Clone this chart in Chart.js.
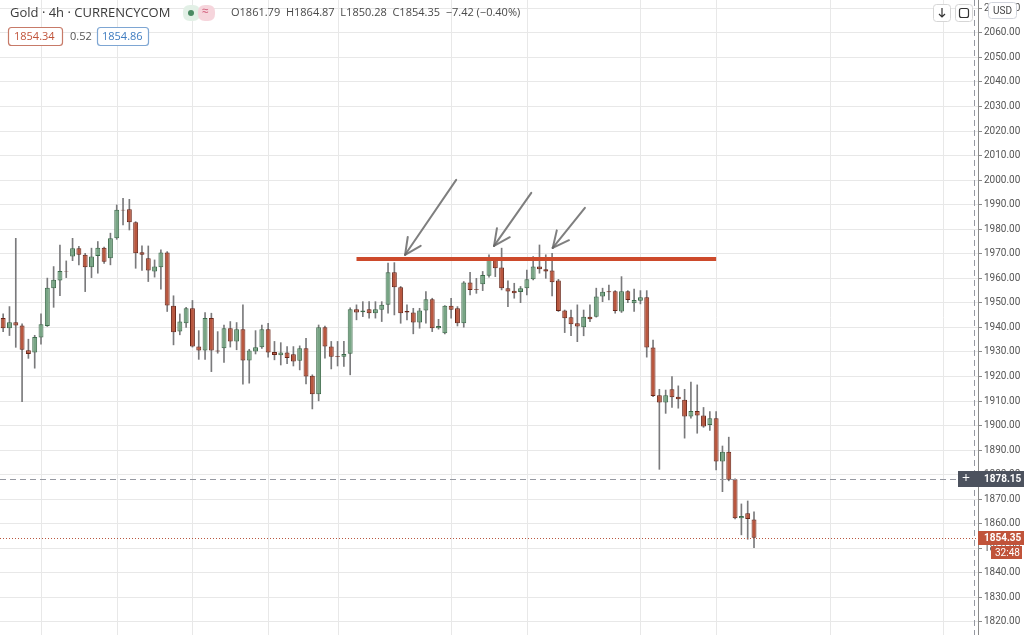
<!DOCTYPE html>
<html>
<head>
<meta charset="utf-8">
<script src="https://cdn.jsdelivr.net/npm/chart.js@4.4.0/dist/chart.umd.min.js"></script>
<style>
  html, body { margin: 0; padding: 0; background: #fff; }
  #wrap { width: 1024px; height: 635px; position: relative; }
</style>
</head>
<body>
<div id="wrap"><canvas id="gold"></canvas></div>
<script>
// 4h candles, Gold / CURRENCYCOM
var opens  = [1943.8,1939.7,1942.1,1940.8,1930.7,1929.8,1935.9,1940.6,1956.0,1959.1,
              1963.0,1968.9,1972.3,1969.6,1964.5,1969.1,1972.5,1968.2,1976.3,1987.9,
              1988.2,1982.9,1970.6,1968.2,1962.8,1964.5,1970.5,1948.8,1938.3,1941.7,
              1947.8,1932.2,1930.6,1943.8,1930.6,1931.5,1939.7,1934.3,1939.3,1926.5,
              1930.2,1931.9,1939.3,1930.0,1928.7,1929.8,1929.1,1926.4,1931.5,1920.3,
              1912.8,1940.1,1932.2,1928.3,1928.1,1929.3,1947.4,1946.2,1947.4,1945.8,
              1947.2,1949.2,1962.5,1956.4,1946.7,1946.1,1942.0,1946.9,1951.5,1939.7,
              1937.6,1948.8,1947.8,1941.7,1958.3,1955.7,1957.6,1961.1,1967.5,1964.4,
              1956.0,1954.9,1954.4,1956.0,1959.6,1964.8,1963.7,1963.2,1959.1,1946.9,
              1944.2,1941.7,1940.1,1944.4,1944.4,1952.6,1954.7,1954.7,1946.5,1954.7,
              1949.9,1950.9,1952.3,1931.8,1912.4,1909.4,1914.8,1911.8,1910.5,1903.7,
              1906.0,1904.1,1900.3,1903.0,1885.4,1889.4,1878.2,1862.3,1864.3,1861.79];
var highs  = [1945.5,1948.5,1976.3,1941.5,1935.2,1936.8,1945.5,1960.1,1964.8,1973.6,
              1967.1,1976.3,1973.0,1970.2,1972.3,1975.0,1972.7,1978.4,1989.9,1992.6,
              1992.2,1983.1,1973.2,1973.2,1967.5,1971.6,1970.9,1952.9,1945.5,1948.2,
              1951.0,1938.7,1946.1,1945.8,1938.3,1941.0,1942.4,1942.0,1949.2,1931.1,
              1938.7,1941.0,1941.7,1934.3,1933.8,1932.2,1932.2,1932.5,1935.6,1920.7,
              1941.0,1940.6,1934.3,1934.3,1934.3,1948.0,1949.2,1950.5,1950.5,1950.5,
              1950.5,1966.2,1966.4,1956.7,1949.2,1947.8,1947.8,1954.6,1951.9,1943.3,
              1948.9,1951.9,1948.5,1958.7,1962.5,1960.0,1962.8,1969.6,1967.8,1972.3,
              1959.0,1958.0,1956.7,1963.4,1968.9,1973.6,1969.6,1970.2,1959.6,1947.1,
              1947.1,1949.2,1947.1,1949.2,1956.0,1956.0,1957.3,1955.0,1960.7,1955.0,
              1955.6,1955.0,1955.0,1934.9,1914.8,1914.5,1920.0,1916.2,1914.8,1917.7,
              1916.6,1907.4,1905.7,1905.7,1891.7,1895.3,1878.3,1868.1,1869.3,1864.87];
var lows   = [1938.3,1936.7,1931.9,1909.8,1927.4,1923.4,1933.2,1940.4,1948.2,1952.9,
              1960.3,1967.2,1965.5,1954.6,1960.3,1962.1,1966.1,1965.5,1975.9,1981.8,
              1979.7,1964.1,1963.2,1958.7,1960.5,1955.6,1946.5,1932.9,1937.0,1940.0,
              1932.0,1927.0,1927.0,1922.0,1929.5,1925.7,1932.0,1930.9,1916.9,1917.3,
              1929.2,1931.5,1927.9,1926.8,1924.7,1925.2,1924.3,1922.7,1917.0,1906.8,
              1910.1,1927.5,1923.1,1924.3,1924.1,1920.7,1943.1,1944.4,1943.8,1943.8,
              1942.4,1945.8,1945.1,1941.7,1943.1,1937.4,1939.7,1941.7,1938.3,1939.3,
              1937.4,1943.8,1940.6,1940.1,1953.3,1953.9,1955.0,1960.5,1960.7,1955.3,
              1948.5,1951.9,1950.1,1953.3,1959.4,1962.1,1960.0,1952.8,1946.5,1937.9,
              1936.6,1934.2,1936.6,1942.4,1944.2,1950.5,1951.2,1945.8,1946.1,1950.1,
              1946.5,1949.6,1927.9,1911.8,1882.2,1905.0,1907.4,1907.1,1894.9,1903.0,
              1896.9,1899.3,1898.0,1882.0,1873.1,1877.5,1862.0,1855.5,1853.7,1850.28];
var closes = [1939.7,1942.1,1940.8,1930.9,1929.2,1936.1,1941.3,1956.2,1959.4,1963.0,
              1962.8,1972.3,1969.6,1964.5,1968.9,1972.5,1966.8,1976.3,1987.9,1987.6,
              1982.9,1970.2,1969.6,1963.2,1964.8,1970.5,1948.9,1938.0,1942.4,1947.8,
              1932.2,1930.6,1943.8,1930.6,1930.2,1939.7,1934.3,1939.3,1926.5,1930.6,
              1931.9,1939.3,1929.8,1928.8,1929.8,1927.5,1926.1,1931.5,1920.0,1912.8,
              1940.1,1932.2,1928.1,1928.0,1929.2,1947.4,1946.1,1946.9,1945.8,1947.4,
              1949.2,1962.5,1956.4,1945.8,1946.1,1942.0,1946.9,1951.5,1939.7,1940.6,
              1948.8,1947.2,1941.7,1958.3,1955.3,1955.4,1961.4,1967.9,1964.1,1956.0,
              1954.6,1953.9,1956.0,1959.6,1964.8,1963.7,1962.8,1958.4,1946.7,1943.7,
              1941.3,1940.4,1944.4,1943.3,1952.6,1954.5,1954.3,1946.7,1954.7,1951.2,
              1951.2,1952.3,1931.8,1912.1,1909.4,1912.4,1911.6,1910.7,1903.7,1906.0,
              1904.1,1899.6,1903.0,1885.4,1889.4,1877.9,1862.3,1863.2,1862.0,1854.35];

// candle indexes where a new day starts (vertical grid)
var dayBreaks = [6, 18, 30, 42, 53, 71, 83, 101, 113, 131, 149];

// drawn-on marks, in candle index / price
var resistance = { from: 56, to: 113, price: 1967.9 };
var arrows = [
  { x0: 71.8, y0: 2000.1, x1: 63.7, y1: 1969.6 },
  { x0: 83.7, y0: 1994.8, x1: 77.8, y1: 1973.2 },
  { x0: 92.2, y0: 1988.7, x1: 87.1, y1: 1972.4 }
];
var crossPrice = 1878.15;
var lastPrice = 1854.35;

var UP_FILL = '#78a585', UP_LINE = '#3d6b4b';
var DN_FILL = '#b9573f', DN_LINE = '#6a2619';
var GRID = '#e8e8e8';

var bodies = [], wicks = [], fills = [], lines = [];
for (var i = 0; i < opens.length; i++) {
  bodies.push({ x: i, y: [opens[i], closes[i]] });
  wicks.push({ x: i, y: [lows[i], highs[i]] });
  var up = closes[i] >= opens[i];
  fills.push(up ? UP_FILL : DN_FILL);
  lines.push(up ? UP_LINE : DN_LINE);
}

function roundRect(ctx, x, y, w, h, r) {
  ctx.beginPath();
  ctx.moveTo(x + r, y);
  ctx.lineTo(x + w - r, y);
  ctx.quadraticCurveTo(x + w, y, x + w, y + r);
  ctx.lineTo(x + w, y + h - r);
  ctx.quadraticCurveTo(x + w, y + h, x + w - r, y + h);
  ctx.lineTo(x + r, y + h);
  ctx.quadraticCurveTo(x, y + h, x, y + h - r);
  ctx.lineTo(x, y + r);
  ctx.quadraticCurveTo(x, y, x + r, y);
  ctx.closePath();
}

var overlay = {
  id: 'overlay',
  beforeDatasetsDraw: function (chart) {
    // vertical day grid
    var ctx = chart.ctx, xs = chart.scales.x, area = chart.chartArea;
    ctx.save();
    ctx.strokeStyle = GRID;
    ctx.lineWidth = 1;
    dayBreaks.forEach(function (d) {
      var px = Math.round(xs.getPixelForValue(d)) + 0.5;
      ctx.beginPath(); ctx.moveTo(px, area.top); ctx.lineTo(px, area.bottom); ctx.stroke();
    });
    ctx.restore();
  },
  afterDatasetsDraw: function (chart) {
    var ctx = chart.ctx, xs = chart.scales.x, ys = chart.scales.y, area = chart.chartArea;
    ctx.save();
    // crosshair
    ctx.strokeStyle = '#9598a1';
    ctx.lineWidth = 1;
    ctx.setLineDash([6, 4]);
    var cy = Math.round(ys.getPixelForValue(crossPrice)) + 0.5;
    ctx.beginPath(); ctx.moveTo(area.left, cy); ctx.lineTo(area.right, cy); ctx.stroke();
    ctx.beginPath(); ctx.moveTo(area.right - 3.5, area.top); ctx.lineTo(area.right - 3.5, area.bottom); ctx.stroke();
    // last price dotted line
    ctx.strokeStyle = '#b9573f';
    ctx.setLineDash([1, 2]);
    var ly = Math.round(ys.getPixelForValue(lastPrice)) + 0.5;
    ctx.beginPath(); ctx.moveTo(area.left, ly); ctx.lineTo(area.right, ly); ctx.stroke();
    ctx.setLineDash([]);

    // resistance line
    ctx.strokeStyle = '#cd4a2b';
    ctx.lineWidth = 4;
    var ry = ys.getPixelForValue(resistance.price);
    ctx.beginPath();
    ctx.moveTo(xs.getPixelForValue(resistance.from), ry);
    ctx.lineTo(xs.getPixelForValue(resistance.to), ry);
    ctx.stroke();

    // hand drawn arrows
    ctx.strokeStyle = 'rgba(105,105,105,0.85)';
    ctx.lineWidth = 2;
    ctx.lineCap = 'round';
    arrows.forEach(function (a) {
      var x0 = xs.getPixelForValue(a.x0), y0 = ys.getPixelForValue(a.y0);
      var x1 = xs.getPixelForValue(a.x1), y1 = ys.getPixelForValue(a.y1);
      ctx.beginPath(); ctx.moveTo(x0, y0); ctx.lineTo(x1, y1); ctx.stroke();
      var ang = Math.atan2(y0 - y1, x0 - x1);
      [-0.45, 0.45].forEach(function (d) {
        ctx.beginPath();
        ctx.moveTo(x1, y1);
        ctx.lineTo(x1 + 18 * Math.cos(ang + d), y1 + 18 * Math.sin(ang + d));
        ctx.stroke();
      });
    });
    ctx.restore();
  },
  afterDraw: function (chart) {
    var ctx = chart.ctx, ys = chart.scales.y, area = chart.chartArea;
    ctx.save();
    ctx.textBaseline = 'middle';

    // price axis labels
    var cy = Math.round(ys.getPixelForValue(crossPrice));
    ctx.fillStyle = '#4c525e';
    ctx.fillRect(958, cy - 8, 66, 16);
    ctx.fillStyle = '#fff';
    ctx.font = '14px "Open Sans"';
    ctx.fillText('+', 962, cy);
    ctx.font = 'bold 10px Roboto';
    ctx.fillText(crossPrice.toFixed(2), 984, cy);

    var ly = Math.round(ys.getPixelForValue(lastPrice));
    ctx.fillStyle = '#c0533a';
    ctx.fillRect(area.right, ly - 7, 46, 14);
    ctx.fillRect(991, ly + 8, 31, 13);
    ctx.fillStyle = '#fff';
    ctx.font = 'bold 10px Roboto';
    ctx.fillText(lastPrice.toFixed(2), 984, ly);
    ctx.font = '10px Roboto';
    ctx.fillText('32:48', 995, ly + 15);

    // USD badge
    ctx.fillStyle = '#fff';
    roundRect(ctx, 988.5, 2.5, 28, 16, 3); ctx.fill();
    ctx.strokeStyle = '#d1d4dc'; ctx.lineWidth = 1; ctx.stroke();
    ctx.fillStyle = '#444';
    ctx.font = '10px Roboto';
    ctx.fillText('USD', 993, 11);

    // top-right buttons
    [933, 955].forEach(function (bx) {
      ctx.fillStyle = '#fff';
      roundRect(ctx, bx + 0.5, 4.5, 17, 17, 3); ctx.fill();
      ctx.strokeStyle = '#d6d6d6'; ctx.stroke();
    });
    ctx.strokeStyle = '#333'; ctx.lineWidth = 1.2;
    ctx.beginPath(); ctx.moveTo(942, 8); ctx.lineTo(942, 17); ctx.moveTo(939, 14); ctx.lineTo(942, 17); ctx.lineTo(945, 14); ctx.stroke();
    roundRect(ctx, 959.5, 8.5, 9, 9, 2); ctx.stroke();

    // header
    ctx.fillStyle = '#3b3b3b';
    ctx.font = '13px "Open Sans"';
    ctx.fillText('Gold \u00b7 4h \u00b7 CURRENCYCOM', 10, 13);
    ctx.fillStyle = '#e2f0e6';
    roundRect(ctx, 183, 5, 17, 16, 7); ctx.fill();
    ctx.fillStyle = '#f6d5dc';
    roundRect(ctx, 198, 5, 17, 16, 7); ctx.fill();
    ctx.fillStyle = '#4a8a62';
    ctx.beginPath(); ctx.arc(191, 13, 3, 0, Math.PI * 2); ctx.fill();
    ctx.fillStyle = '#d05a78';
    ctx.font = '12px "Open Sans"';
    ctx.fillText('\u2248', 202, 12);
    ctx.fillStyle = '#4a4a4a';
    ctx.font = '11px "Open Sans"';
    ctx.fillText('O1861.79  H1864.87  L1850.28  C1854.35  \u22127.42 (\u22120.40%)', 231, 13);

    ctx.fillStyle = '#fff';
    roundRect(ctx, 8.5, 27.5, 54, 18, 3); ctx.fill();
    ctx.strokeStyle = '#c77a68'; ctx.stroke();
    roundRect(ctx, 97.5, 27.5, 51, 18, 3); ctx.fill();
    ctx.strokeStyle = '#7ea6d3'; ctx.stroke();
    ctx.font = '11px "Open Sans"';
    ctx.fillStyle = '#c0533a';
    ctx.fillText('1854.34', 14, 37);
    ctx.fillStyle = '#555';
    ctx.fillText('0.52', 70, 37);
    ctx.fillStyle = '#3f7cc0';
    ctx.fillText('1854.86', 102, 37);
    ctx.restore();
  }
};

new Chart(document.getElementById('gold').getContext('2d'), {
  type: 'bar',
  data: {
    datasets: [
      {
        label: 'wick',
        data: wicks,
        backgroundColor: '#7a7a7c',
        barThickness: 1,
        grouped: false,
        order: 2
      },
      {
        label: 'body',
        data: bodies,
        backgroundColor: fills,
        borderColor: lines,
        borderWidth: 1,
        borderSkipped: false,
        categoryPercentage: 1,
        barPercentage: 0.78,
        grouped: false,
        order: 1
      }
    ]
  },
  plugins: [overlay],
  options: {
    responsive: true,
    maintainAspectRatio: false,
    animation: false,
    layout: { padding: 0 },
    plugins: { legend: { display: false }, tooltip: { enabled: false } },
    scales: {
      x: {
        type: 'linear',
        min: -0.5,
        max: 154.5,
        offset: false,
        ticks: { display: false },
        border: { display: false },
        grid: { display: false },
        afterFit: function (s) { s.height = 0; s.paddingLeft = 0; s.paddingRight = 0; }
      },
      y: {
        position: 'right',
        min: 1814.7,
        max: 2073.4,
        ticks: {
          stepSize: 10,
          includeBounds: false,
          color: '#555',
          font: { family: 'Roboto', size: 10 },
          padding: 2,
          callback: function (v) { return v.toFixed(2); }
        },
        border: { display: true, color: '#8a8a8a' },
        grid: { color: GRID, tickColor: '#8a8a8a', tickLength: 4 },
        afterFit: function (s) { s.width = 46; s.paddingTop = 0; s.paddingBottom = 0; }
      }
    }
  }
});
</script>
</body>
</html>
